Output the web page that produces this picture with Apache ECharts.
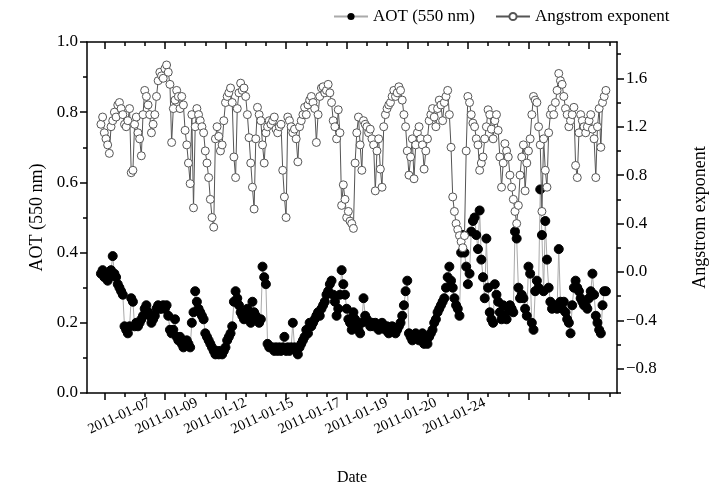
<!DOCTYPE html>
<html>
<head>
<meta charset="utf-8">
<script src="https://cdn.jsdelivr.net/npm/echarts@6/dist/echarts.min.js"></script>
<style>
  html, body { margin: 0; padding: 0; background: #fff; }
  #chart { width: 712px; height: 489px; }
</style>
</head>
<body>
<div id="chart"></div>
<script>
// date labels and the observation index they sit at
var dateLabels = ['2011-01-07', '2011-01-09', '2011-01-12', '2011-01-15', '2011-01-17', '2011-01-19', '2011-01-20', '2011-01-24'];
var dateLabelIdx = [29, 57, 86, 114, 142, 170, 199, 228];

// AOT (550 nm), one value per observation
var aot = [
  0.34, 0.35, 0.33, 0.34, 0.32, 0.33,  0.35, 0.39, 0.34, 0.33, 0.31, 0.30,  0.29, 0.28, 0.19, 0.18, 0.17, 0.19,
  0.27, 0.26, 0.19, 0.20, 0.19, 0.20,  0.21, 0.22, 0.24, 0.25, 0.23, 0.22,  0.20, 0.21, 0.22, 0.24, 0.25, 0.24,
  0.24, 0.25, 0.24, 0.25, 0.22, 0.18,  0.17, 0.18, 0.21, 0.16, 0.15, 0.16,  0.14, 0.13, 0.14, 0.15, 0.14, 0.13,
  0.20, 0.23, 0.29, 0.26, 0.24, 0.23,  0.22, 0.21, 0.17, 0.16, 0.15, 0.14,  0.13, 0.12, 0.11, 0.12, 0.11, 0.12,
  0.11, 0.12, 0.13, 0.15, 0.16, 0.17,  0.19, 0.26, 0.29, 0.27, 0.25, 0.23,  0.22, 0.21, 0.23, 0.24, 0.22, 0.20,
  0.26, 0.23, 0.22, 0.21, 0.20, 0.21,  0.36, 0.33, 0.31, 0.14, 0.13, 0.13,  0.13, 0.12, 0.13, 0.12, 0.13, 0.12,
  0.13, 0.16, 0.12, 0.13, 0.12, 0.13,  0.20, 0.13, 0.12, 0.11, 0.13, 0.14,  0.15, 0.16, 0.18, 0.17, 0.20, 0.19,
  0.20, 0.21, 0.22, 0.23, 0.22, 0.24,  0.25, 0.26, 0.28, 0.29, 0.31, 0.32,  0.28, 0.26, 0.22, 0.24, 0.28, 0.35,
  0.31, 0.28, 0.24, 0.21, 0.20, 0.18,  0.23, 0.21, 0.19, 0.18, 0.17, 0.20,  0.27, 0.22, 0.21, 0.20, 0.19, 0.20,
  0.19, 0.20, 0.19, 0.18, 0.19, 0.20,  0.19, 0.18, 0.19, 0.17, 0.18, 0.19,  0.18, 0.17, 0.18, 0.19, 0.20, 0.22,
  0.25, 0.29, 0.32, 0.17, 0.16, 0.15,  0.16, 0.17, 0.16, 0.15, 0.16, 0.17,  0.14, 0.15, 0.14, 0.16, 0.17, 0.18,
  0.20, 0.21, 0.23, 0.24, 0.25, 0.26,  0.27, 0.30, 0.33, 0.36, 0.32, 0.30,  0.27, 0.25, 0.24, 0.22, 0.40, 0.45,
  0.40, 0.36, 0.31, 0.34, 0.46, 0.49,  0.50, 0.45, 0.41, 0.52, 0.38, 0.33,  0.27, 0.44, 0.30, 0.23, 0.21, 0.20,
  0.31, 0.28, 0.26, 0.23, 0.21, 0.25,  0.22, 0.21, 0.24, 0.25, 0.24, 0.23,  0.46, 0.44, 0.30, 0.27, 0.28, 0.27,
  0.24, 0.22, 0.36, 0.34, 0.20, 0.18,  0.29, 0.32, 0.30, 0.58, 0.45, 0.29,  0.49, 0.38, 0.30, 0.26, 0.24, 0.25,
  0.25, 0.24, 0.41, 0.26, 0.24, 0.26,  0.23, 0.21, 0.20, 0.17, 0.25, 0.30,  0.32, 0.30, 0.29, 0.27, 0.26, 0.25,
  0.25, 0.24, 0.27, 0.29, 0.34, 0.28,  0.22, 0.20, 0.18, 0.17, 0.25, 0.29,  0.29
];

// Angstrom exponent, same observations
var angstrom = [
  1.22, 1.28, 1.15, 1.10, 1.05, 0.98,  1.20, 1.25, 1.32, 1.28, 1.38, 1.40,  1.35, 1.30, 1.22, 1.20, 1.25, 1.35,
  0.82, 0.84, 1.22, 1.28, 1.15, 1.10,  0.96, 1.30, 1.50, 1.45, 1.38, 1.30,  1.15, 1.22, 1.30, 1.45, 1.58, 1.65,
  1.62, 1.60, 1.68, 1.71, 1.65, 1.55,  1.07, 1.35, 1.42, 1.50, 1.45, 1.35,  1.45, 1.38, 1.17, 1.05, 0.90, 0.73,
  1.30, 0.53, 1.20, 1.35, 1.30, 1.25,  1.20, 1.15, 1.00, 0.90, 0.78, 0.60,  0.45, 0.37, 1.10, 1.20, 1.12, 1.00,
  1.05, 1.25, 1.40, 1.45, 1.48, 1.52,  1.40, 0.95, 0.78, 1.35, 1.48, 1.56,  1.50, 1.52, 1.45, 1.30, 1.11, 0.90,
  0.70, 0.52, 1.10, 1.36, 1.30, 1.25,  1.05, 0.90, 1.15, 1.20, 1.25, 1.22,  1.25, 1.28, 1.18, 1.15, 1.20, 1.22,
  0.84, 0.62, 0.45, 1.28, 1.25, 1.20,  1.15, 1.18, 1.10, 0.91, 1.20, 1.25,  1.30, 1.36, 1.30, 1.38, 1.42, 1.45,
  1.40, 1.35, 1.07, 1.30, 1.45, 1.52,  1.53, 1.48, 1.50, 1.55, 1.48, 1.40,  1.25, 1.20, 1.10, 1.34, 1.15, 0.55,
  0.72, 0.60, 0.45, 0.50, 0.42, 0.40,  0.36, 0.90, 1.15, 1.28, 1.05, 0.84,  1.25, 1.22, 1.20, 1.15, 1.18, 1.10,
  1.05, 0.67, 1.00, 1.10, 0.85, 0.70,  1.20, 1.30, 1.35, 1.38, 1.40, 1.45,  1.50, 1.45, 1.48, 1.53, 1.50, 1.42,
  1.30, 1.20, 1.00, 0.80, 0.95, 1.10,  0.77, 1.05, 1.15, 1.20, 1.10, 1.05,  0.85, 1.00, 1.10, 1.25, 1.30, 1.35,
  1.28, 1.20, 1.35, 1.42, 1.38, 1.25,  1.40, 1.45, 1.50, 1.30, 1.03, 0.62,  0.50, 0.40, 0.35, 0.30, 0.25, 0.20,
  0.30, 1.00, 1.45, 1.40, 1.30, 1.23,  1.20, 1.10, 1.05, 0.84, 0.90, 0.95,  1.10, 1.20, 1.34, 1.30, 1.18, 1.10,
  1.25, 1.30, 1.17, 0.95, 0.70, 0.90,  1.06, 1.00, 0.95, 0.80, 0.70, 0.60,  0.50, 0.40, 0.55, 0.80, 0.95, 1.05,
  0.67, 0.90, 1.00, 1.10, 1.30, 1.45,  1.42, 1.40, 1.20, 1.05, 0.50, 1.10,  0.84, 0.70, 1.15, 1.30, 1.35, 1.30,
  1.40, 1.50, 1.64, 1.58, 1.55, 1.45,  1.35, 1.30, 1.20, 1.25, 1.30, 1.36,  0.88, 0.78, 1.15, 1.30, 1.25, 1.20,
  1.15, 1.20, 1.25, 1.30, 1.18, 1.10,  0.78, 1.20, 1.35, 1.03, 1.40, 1.45,  1.50
];

var angMajor = [-0.8, -0.4, 0, 0.4, 0.8, 1.2, 1.6];
var angMinor = [-1.0, -0.6, -0.2, 0.2, 0.6, 1.0, 1.4, 1.8];

var xMin = -8.28, xMax = 306.6;
var minorTicks = [], majorTicks = [];
for (var t = 2; t <= 302; t += 12) minorTicks.push(t);
for (var t = 2; t <= 302; t += 36) majorTicks.push(t);

var font = 'Liberation Serif';
var black = '#000';

function xAx(pos, ticks, len, showLine, inside) {
  return {
    type: 'value', position: pos, min: xMin, max: xMax,
    axisLine: { show: showLine, onZero: false, lineStyle: { color: black, width: 1.5 } },
    axisTick: { show: true, inside: inside, customValues: ticks, length: len, lineStyle: { color: black, width: 1.5 } },
    axisLabel: { show: false },
    splitLine: { show: false }
  };
}

var xBottomMajor = xAx('bottom', majorTicks, 7, false, false);
xBottomMajor.axisLabel = {
  show: true, customValues: dateLabelIdx, rotate: 25, margin: 9,
  fontFamily: font, fontSize: 14.5, color: black,
  formatter: function (v) { return dateLabels[dateLabelIdx.indexOf(v)]; }
};
xBottomMajor.name = 'Date';
xBottomMajor.nameLocation = 'middle';
xBottomMajor.nameGap = 77;
xBottomMajor.nameTextStyle = { fontFamily: font, fontSize: 16, color: black };

function fmt(v) { return v.toFixed(1).replace('-', '\u2212'); }

var option = {
  animation: false,
  backgroundColor: '#fff',
  grid: { left: 87, right: 95, top: 42, bottom: 96, containLabel: false, outerBoundsMode: 'none' },
  legend: {
    left: 328, top: 3, itemGap: 20, itemWidth: 34, itemHeight: 9,
    textStyle: { fontFamily: font, fontSize: 17, color: black },
    data: ['AOT (550 nm)', 'Angstrom exponent']
  },
  xAxis: [
    xAx('bottom', minorTicks, 4, true, false),
    xBottomMajor,
    xAx('top', minorTicks, 4, true, true),
    xAx('top', majorTicks, 7, false, true)
  ],
  yAxis: [
    {
      type: 'value', position: 'left', min: 0, max: 1, interval: 0.2,
      name: 'AOT (550 nm)', nameLocation: 'middle', nameGap: 38, nameRotate: 90,
      nameTextStyle: { fontFamily: font, fontSize: 18, color: black },
      axisLine: { show: true, onZero: false, lineStyle: { color: black, width: 1.5 } },
      axisTick: { show: true, length: 7, lineStyle: { color: black, width: 1.5 } },
      minorTick: { show: true, splitNumber: 2, length: 4, lineStyle: { color: black, width: 1.5 } },
      axisLabel: { fontFamily: font, fontSize: 17, color: black, margin: 9, formatter: fmt },
      splitLine: { show: false }
    },
    {
      type: 'value', position: 'right', min: -1.0, max: 1.9,
      name: 'Angstrom exponent', nameLocation: 'middle', nameGap: 74, nameRotate: 90,
      nameTextStyle: { fontFamily: font, fontSize: 18, color: black },
      axisLine: { show: true, onZero: false, lineStyle: { color: black, width: 1.5 } },
      axisTick: { show: true, customValues: angMajor, length: 7, lineStyle: { color: black, width: 1.5 } },
      axisLabel: { customValues: angMajor, fontFamily: font, fontSize: 17, color: black, margin: 9, formatter: fmt },
      splitLine: { show: false }
    },
    {
      type: 'value', position: 'right', min: -1.0, max: 1.9,
      axisLine: { show: false, onZero: false },
      axisTick: { show: true, customValues: angMinor, length: 4, lineStyle: { color: black, width: 1.5 } },
      axisLabel: { show: false },
      splitLine: { show: false }
    }
  ],
  series: [
    {
      name: 'AOT (550 nm)', type: 'line', xAxisIndex: 0, yAxisIndex: 0,
      data: aot.map(function (v, i) { return [i, v]; }),
      symbol: 'circle', symbolSize: 9, showAllSymbol: true,
      itemStyle: { color: '#000', borderColor: '#000' },
      lineStyle: { color: '#aaa', width: 1 },
      z: 2
    },
    {
      name: 'Angstrom exponent', type: 'line', xAxisIndex: 0, yAxisIndex: 1,
      data: angstrom.map(function (v, i) { return [i, v]; }),
      symbol: 'circle', symbolSize: 8, showAllSymbol: true,
      itemStyle: { color: '#fff', borderColor: '#555', borderWidth: 1 },
      lineStyle: { color: '#555', width: 1 },
      z: 3
    }
  ]
};

var chart = echarts.init(document.getElementById('chart'), null, { renderer: 'canvas' });
chart.setOption(option);
</script>
</body>
</html>
